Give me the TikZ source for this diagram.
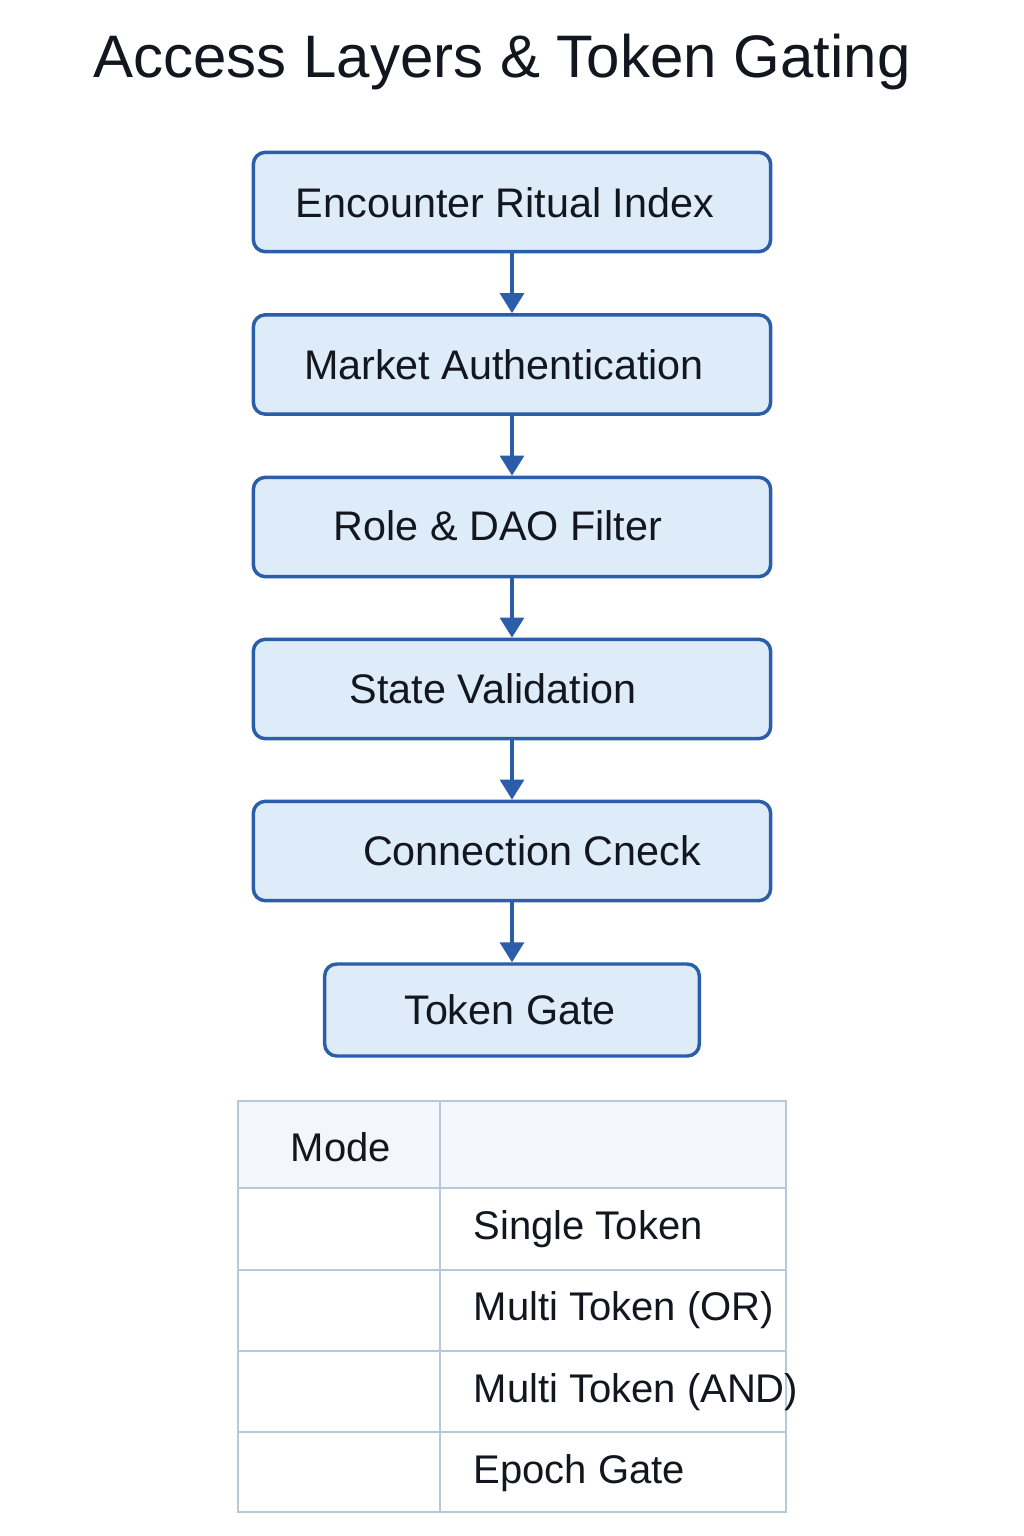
\documentclass[tikz,border=0pt]{standalone}
\usepackage{fontspec}
\setmainfont{Liberation Sans}
\usetikzlibrary{arrows.meta,positioning}
\definecolor{boxblue}{RGB}{42,94,168}
\definecolor{boxfill}{RGB}{222,235,249}
\definecolor{gridline}{RGB}{182,201,219}
\definecolor{headfill}{RGB}{243,247,251}
\definecolor{inktext}{RGB}{18,22,30}

\begin{document}
\begin{tikzpicture}[x=0.75pt,y=0.75pt,yscale=-1,xscale=1,
	layer/.style={draw=boxblue,fill=boxfill,line width=2.6pt,rounded corners=9pt,minimum width=388pt,minimum height=74.5pt,inner sep=0pt},
	flow/.style={color=boxblue,line width=2.4pt,-{Triangle[width=18pt,length=15pt]}},
	lbl/.style={color=inktext,font=\fontsize{31}{36}\selectfont},
	cell/.style={color=inktext,font=\fontsize{30}{35}\selectfont}]
				\useasboundingbox (0,0) rectangle (1024,1536);
				
				% Text Node
				\draw (502,62) node [color=inktext,font=\fontsize{45}{52}\selectfont] (title) {Access Layers \& Token Gating};
				
				%Shape: Rectangle [layers]
				\node [layer] (encounter) at (512,202) {};
				\node [layer] (market) at (512,364.5) {};
				\node [layer] (role) at (512,527) {};
				\node [layer] (state) at (512,689) {};
				\node [layer] (connection) at (512,851) {};
				\node [layer,minimum width=281pt,minimum height=69pt] (tokengate) at (512,1010) {};
				
				%Straight Lines [arrows]
				\draw [flow] (encounter.south) -- (market.north);
				\draw [flow] (market.south) -- (role.north);
				\draw [flow] (role.south) -- (state.north);
				\draw [flow] (state.south) -- (connection.north);
				\draw [flow] (connection.south) -- (tokengate.north);
				
				% Text Node
				\draw (505,203) node [lbl] (encountertxt) {Encounter Ritual Index};
				% Text Node
				\draw (504,365) node [lbl] (markettxt) {Market Authentication};
				% Text Node
				\draw (498,526) node [lbl] (roletxt) {Role \& DAO Filter};
				% Text Node
				\draw (493,689) node [lbl] (statetxt) {State Validation};
				% Text Node
				\draw (532,851) node [lbl] (connectiontxt) {Connection Cneck};
				% Text Node
				\draw (510,1010) node [lbl] (tokengatetxt) {Token Gate};
				
				%Shape: Table
				\fill [headfill] (238,1101) rectangle (786,1188);
				\draw [color=gridline,line width=2pt] (238,1101) rectangle (786,1512) (440,1101) -- (440,1512) (238,1188) -- (786,1188) (238,1270) -- (786,1270) (238,1351) -- (786,1351) (238,1432) -- (786,1432);
				
				% Text Node
				\draw (341,1147) node [cell] (modehead) {Mode};
				% Text Node
				\draw (469,1229) node [cell,anchor=west] (single) {Single Token};
				% Text Node
				\draw (469,1310) node [cell,anchor=west] (multior) {Multi Token (OR)};
				% Text Node
				\draw (469,1392) node [cell,anchor=west] (multiand) {Multi Token (AND)};
				% Text Node
				\draw (469,1473) node [cell,anchor=west] (epoch) {Epoch Gate};
				
\end{tikzpicture}
\end{document}
